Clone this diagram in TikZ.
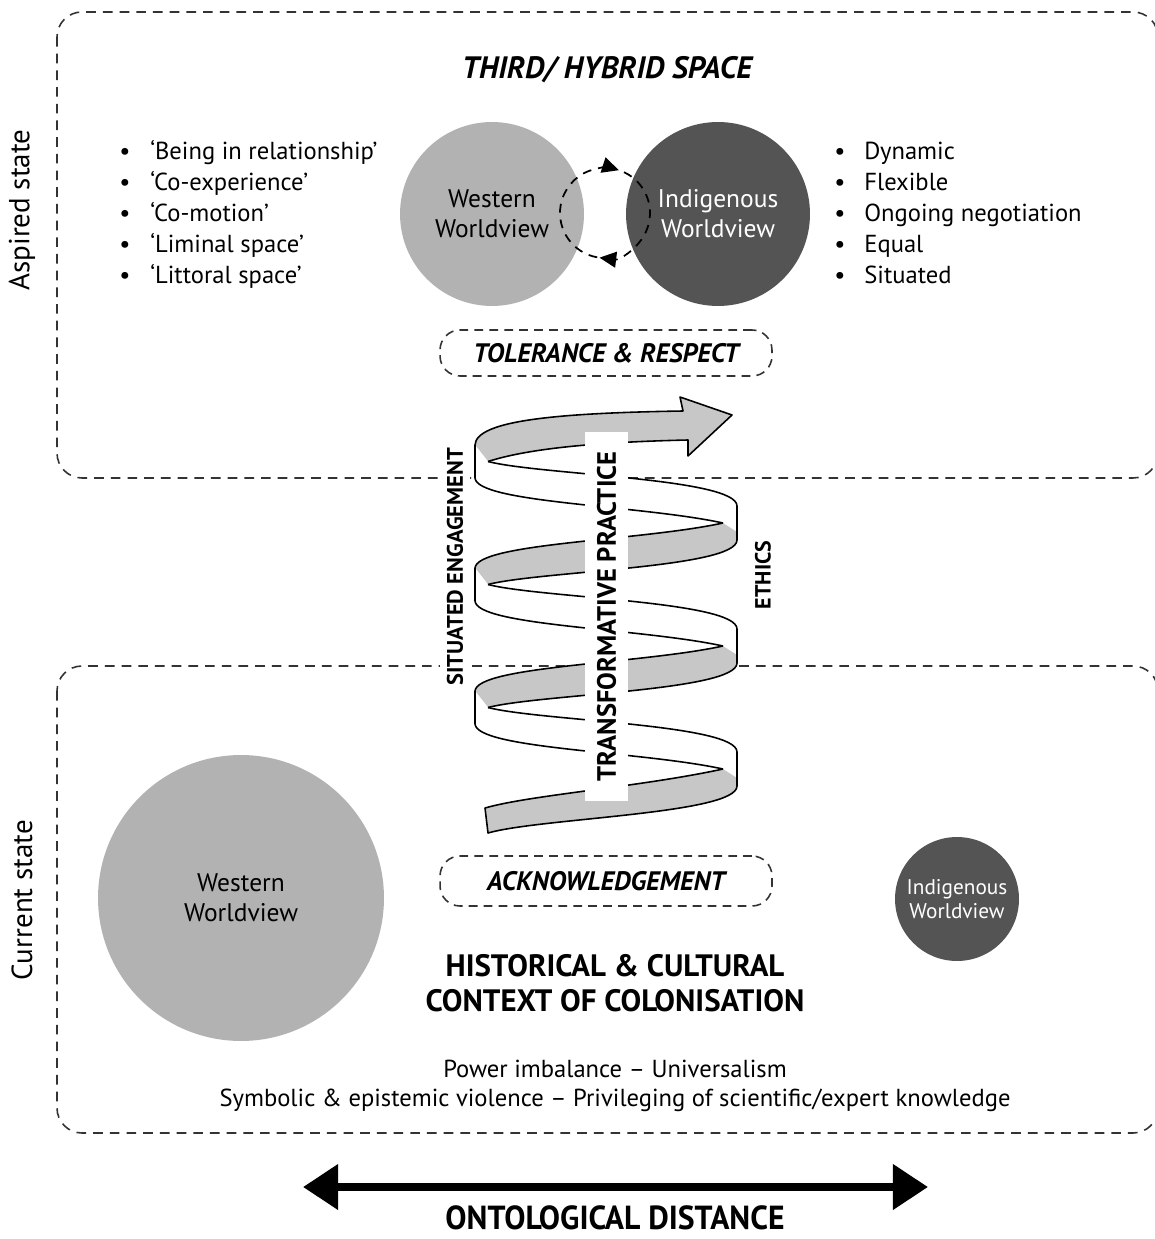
\documentclass[tikz,border=0pt]{standalone}
\usepackage{fontspec}
\setmainfont{PT Sans}
\usepackage{graphicx}
\usetikzlibrary{arrows.meta}

\definecolor{westgray}{gray}{0.70}
\definecolor{indigray}{gray}{0.33}
\definecolor{ribbongray}{gray}{0.78}
\definecolor{framegray}{gray}{0.2}

\newcommand{\bodysize}{\fontsize{14}{16.5}\selectfont}
\newcommand{\worldsize}{\fontsize{14.5}{17}\selectfont}
\newcommand{\headsize}{\fontsize{17.6}{20}\selectfont}
\newcommand{\valuesize}{\fontsize{15.2}{18}\selectfont}

\begin{document}
\begin{tikzpicture}[x=0.02cm,y=-0.02cm,
  statebox/.style={draw=framegray, line width=0.9pt, dash pattern=on 5.5pt off 4pt, rounded corners=0.5cm},
  valuebox/.style={draw=framegray, line width=0.9pt, dash pattern=on 5pt off 3.5pt, rounded corners=0.4cm, minimum width=6.64cm, font=\valuesize\bfseries\itshape},
  world/.style={circle, inner sep=0pt, align=center, font=\worldsize},
  bulletdot/.style={font=\bodysize, anchor=base},
  bullettext/.style={font=\bodysize, anchor=base west, inner sep=0pt},
  statelabel/.style={rotate=90, font=\fontsize{16.5}{19}\selectfont},
  ribbon/.style={line width=0.9pt, line join=round},
  cyclearrow/.style={line width=1pt, dash pattern=on 5pt off 4pt, -{Triangle[length=9.5pt,width=9pt]}}]
\useasboundingbox (0,0) rectangle (1154,1239);

% two states
\draw [statebox] (57,12) rectangle (1158,478);
\draw [statebox] (57,666) rectangle (1158,1133);
\node [statelabel] (aspired) at (22,210) {Aspired state};
\node [statelabel] (current) at (22,900) {Current state};

% aspired state
\node [font=\headsize\bfseries\itshape] (third) at (607,70) {THIRD/ HYBRID SPACE};
\foreach \lbl [count=\i] in {‘Being in relationship’,‘Co-experience’,‘Co-motion’,‘Liminal space’,‘Littoral space’}{
  \node [bulletdot] (ldot\i) at (125,129+31*\i) {\textbullet};
  \node [bullettext] (litem\i) at (150,129+31*\i) {\lbl};
}
\foreach \lbl [count=\i] in {Dynamic,Flexible,Ongoing negotiation,Equal,Situated}{
  \node [bulletdot] (rdot\i) at (840,129+31*\i) {\textbullet};
  \node [bullettext] (ritem\i) at (864,129+31*\i) {\lbl};
}
\node [world, fill=westgray, minimum size=3.68cm] (westtop) at (492,214) {Western\\Worldview};
\node [world, fill=indigray, text=white, minimum size=3.68cm] (inditop) at (718,214) {Indigenous\\Worldview};
\draw [cyclearrow] (605,213) ++(100:45) arc (100:288:45);
\draw [cyclearrow] (605,213) ++(295:45) arc (295:457:45);
\node [valuebox, minimum height=0.92cm] (tolerance) at (606,353) {TOLERANCE \& RESPECT};

% spiral
\fill [ribbongray] (475,445) .. controls (476,420) and (560,413) .. (683,411) -- (680,397) -- (732,415) -- (688,456) -- (688,440) .. controls (600,442) and (530,448) .. (488,461.5) -- cycle;
\foreach \r in {506,629}
  \fill [ribbongray] (723,\r+17) .. controls (640,\r+35) and (477,\r+37) .. (475,\r+62) -- (488,\r+78.5) .. controls (540,\r+65) and (737,\r+62) .. (737,\r+34) -- (737,\r+26) -- cycle;
\fill [ribbongray] (723,769) .. controls (640,787) and (530,795) .. (485,808) -- (488,833) .. controls (540,818) and (737,814) .. (737,786) -- (737,778) -- cycle;
\foreach \r in {506,629,752}
  \fill [white] (488,\r-44.5) .. controls (540,\r-31) and (737,\r-28) .. (737,\r) -- (723,\r+17) .. controls (640,\r-1) and (477,\r-3) .. (475,\r-28) -- (475,\r-61) -- cycle;
\draw [ribbon] (475,445) .. controls (476,420) and (560,413) .. (683,411) -- (680,397) -- (732,415) -- (688,456) -- (688,440) .. controls (600,442) and (530,448) .. (488,461.5);
\foreach \r in {506,629,752}{
  \draw [ribbon] (488,\r-44.5) .. controls (540,\r-31) and (737,\r-28) .. (737,\r) -- (737,\r+34);
  \draw [ribbon] (723,\r+17) .. controls (640,\r-1) and (477,\r-3) .. (475,\r-28) -- (475,\r-61);
}
\foreach \r in {506,629}{
  \draw [ribbon] (723,\r+17) .. controls (640,\r+35) and (477,\r+37) .. (475,\r+62);
  \draw [ribbon] (737,\r+34) .. controls (737,\r+62) and (540,\r+65) .. (488,\r+78.5);
}
\draw [ribbon] (723,769) .. controls (640,787) and (530,795) .. (485,808) -- (488,833) .. controls (540,818) and (737,814) .. (737,786);
\node [rotate=90, fill=white, minimum width=7.38cm, minimum height=0.86cm, inner sep=0pt, font=\fontsize{15.1}{17}\selectfont\bfseries] (practice) at (606.5,616.5) {TRANSFORMATIVE PRACTICE};
\node [rotate=90, fill=white, inner sep=4pt, font=\fontsize{12.8}{14}\selectfont\bfseries] (engagement) at (455,567) {SITUATED ENGAGEMENT};
\node [rotate=90, font=\fontsize{12.5}{14}\selectfont\bfseries] (ethics) at (763,575) {ETHICS};

% current state
\node [valuebox, minimum height=1.0cm] (acknow) at (606,881) {ACKNOWLEDGEMENT};
\node [world, fill=westgray, minimum size=5.72cm] (westlow) at (241,898) {Western\\Worldview};
\node [world, fill=indigray, text=white, minimum size=2.48cm, font=\fontsize{12.1}{13.8}\selectfont] (indilow) at (957,899) {Indigenous\\Worldview};
\node [align=center, font=\headsize\bfseries] (context) at (615,983) {HISTORICAL \& CULTURAL\\CONTEXT OF COLONISATION};
\node [font=\bodysize] (power) at (615,1069) {Power imbalance -- Universalism};
\node [font=\bodysize] (violence) at (615,1100) {Symbolic \& epistemic violence -- Privileging of scientific/expert knowledge};

% distance
\coordinate (distleft) at (303,1187);
\coordinate (distright) at (928,1187);
\draw [line width=4.5pt, {Triangle[length=20pt,width=25pt]}-{Triangle[length=20pt,width=25pt]}] (distleft) -- (distright);
\node [anchor=base, inner sep=0pt, font=\fontsize{19}{22}\selectfont\bfseries] (distance) at (615,1229) {\scalebox{0.95}[1]{ONTOLOGICAL DISTANCE}};
\end{tikzpicture}
\end{document}
